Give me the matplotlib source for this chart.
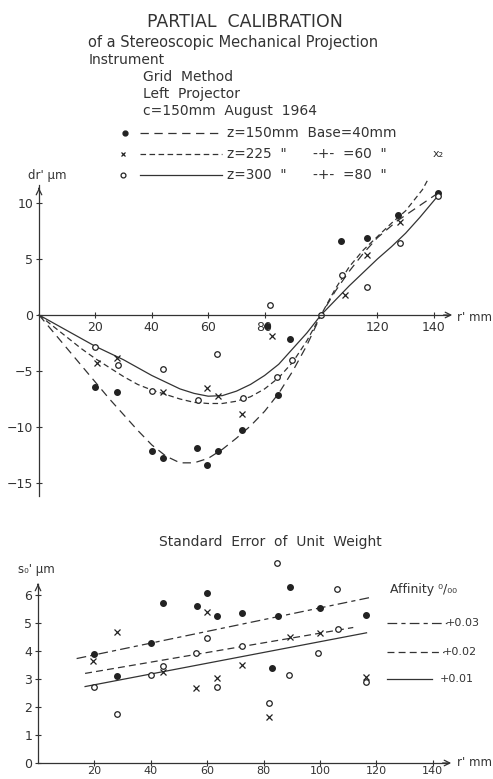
import matplotlib.pyplot as plt
import numpy as np

W, H = 493, 779
INK = '#333333'

plt.rcParams['font.family'] = ['DejaVu Sans']
plt.rcParams['lines.scale_dashes'] = False

# --- upper chart: dr' [um] against r' [mm] ---
curve150_r = [0, 5, 10, 15, 20, 25, 30, 35, 40, 45, 50, 55, 60, 65, 70, 75, 80, 85, 90, 95,
              100, 105, 110, 115, 120, 127, 134, 141]
curve150_dr = [0, -1.5, -3.0, -4.5, -6.0, -7.5, -8.9, -10.3, -11.6, -12.6, -13.2, -13.2, -12.8,
               -12.0, -11.0, -9.9, -8.6, -7.0, -5.0, -2.7, 0, 2.1, 3.9, 5.5, 6.9, 8.4, 9.6, 10.8]
curve225_r = [0, 5, 10, 15, 20, 25, 30, 35, 40, 45, 50, 55, 60, 65, 70, 75, 80, 85, 90, 95,
              100, 105, 110, 115, 120, 125, 130, 136, 142]
curve225_dr = [0, -1.0, -2.0, -3.0, -3.9, -4.7, -5.5, -6.2, -6.7, -7.1, -7.5, -7.8, -7.9, -7.9,
               -7.7, -7.3, -6.6, -5.6, -4.2, -2.3, 0, 2.3, 4.3, 5.8, 7.0, 8.2, 9.3, 11.2, 14.0]
curve300_r = [0, 5, 10, 15, 20, 25, 30, 35, 40, 45, 50, 55, 60, 65, 70, 75, 80, 85, 90, 95,
              100, 105, 110, 115, 120, 125, 130, 135, 141]
curve300_dr = [0, -0.7, -1.4, -2.1, -2.8, -3.4, -4.0, -4.7, -5.4, -6.0, -6.6, -7.0, -7.25, -7.2,
               -6.8, -6.2, -5.4, -4.4, -3.0, -1.6, 0, 1.3, 2.6, 3.8, 5.0, 6.1, 7.3, 8.7, 10.5]

pts150_r = [20, 27.7, 40, 44, 56, 59.6, 63.6, 72, 81, 84.8, 89, 107, 116.3, 127.3, 141.5]
pts150_dr = [-6.4, -6.9, -12.1, -12.8, -11.9, -13.4, -12.1, -10.3, -1.0, -7.1, -2.1, 6.6, 6.9, 8.9, 10.9]
pts225_r = [20.5, 27.6, 44, 59.6, 63.6, 72, 82.6, 108.5, 116.3, 128]
pts225_dr = [-4.3, -3.8, -6.9, -6.5, -7.2, -8.8, -1.9, 1.8, 5.4, 8.3]
pts300_r = [20, 28, 40, 44, 56.5, 63.2, 72.4, 82, 84.4, 89.7, 100, 107.4, 116.3, 128, 141.5]
pts300_dr = [-2.9, -4.5, -6.8, -4.8, -7.6, -3.5, -7.4, 0.9, -5.5, -4.0, 0, 3.6, 2.5, 6.4, 10.6]

top_xticks = [20, 40, 60, 80, 100, 120, 140]
top_xlabels = ['20', '40', '60', '80', '', '120', '140']
top_yticks = [-15, -10, -5, 0, 5, 10]

# --- lower chart: standard error of unit weight s0' [um] ---
se_fill_r = [20, 28.1, 40, 44.4, 56.5, 59.8, 63.6, 72.2, 82.9, 85.2, 89.4, 100, 116.3]
se_fill_s = [3.89, 3.11, 4.3, 5.70, 5.6, 6.08, 5.25, 5.37, 3.38, 5.25, 6.27, 5.52, 5.29]
se_x_r = [19.6, 27.9, 44.4, 56, 59.8, 63.4, 72.2, 82, 89.4, 100, 116.3]
se_x_s = [3.64, 4.69, 3.26, 2.67, 5.4, 3.02, 3.5, 1.65, 4.51, 4.65, 3.07]
se_o_r = [20, 28.1, 40, 44.4, 55.9, 59.8, 63.6, 72.2, 82, 84.6, 89.1, 99.4, 105.9, 106.5, 116.3]
se_o_s = [2.7, 1.75, 3.14, 3.46, 3.94, 4.45, 2.73, 4.18, 2.13, 7.13, 3.14, 3.94, 6.2, 4.77, 2.9]

fit003_r = [13.7, 117.7]
fit003_s = [3.73, 5.91]
fit002_r = [16.7, 111.8]
fit002_s = [3.2, 4.84]
fit001_r = [16.7, 116.5]
fit001_s = [2.73, 4.65]

bot_xticks = [20, 40, 60, 80, 100, 120, 140]
bot_yticks = [0, 1, 2, 3, 4, 5, 6]

fig = plt.figure(figsize=(W / 100, H / 100), dpi=100)
fig.patch.set_facecolor('white')


def px_axes(left, top, right, bottom):
    return fig.add_axes([left / W, 1 - bottom / H, (right - left) / W, (bottom - top) / H])


def style_axes(ax, xend, ytop, ybot):
    for s in ['top', 'right']:
        ax.spines[s].set_visible(False)
    ax.spines['left'].set_position(('data', 0))
    ax.spines['bottom'].set_position(('data', 0))
    ax.spines['left'].set_bounds(ybot, ytop)
    ax.spines['bottom'].set_bounds(0, xend)
    for s in ['left', 'bottom']:
        ax.spines[s].set_color(INK)
        ax.spines[s].set_linewidth(0.9)
    ax.tick_params(direction='inout', length=4, width=0.8, colors=INK, labelsize=9, pad=2)
    ax.patch.set_alpha(0)
    ax.annotate('', xy=(xend + 2, 0), xytext=(xend - 3, 0),
                arrowprops=dict(arrowstyle='->', color=INK, lw=0.9))
    ax.annotate('', xy=(0, ytop), xytext=(0, ytop - 0.1 * (ytop - ybot) / 5),
                arrowprops=dict(arrowstyle='->', color=INK, lw=0.9))


# upper axes: r'=0 at x px 39 (2.82 px/mm), dr'=0 at y px 315 (11.2 px/um)
ax1 = px_axes(20, 180, 490, 505)
ax1.set_xlim((20 - 39) / 2.82, (490 - 39) / 2.82)
ax1.set_ylim((315 - 505) / 11.2, (315 - 180) / 11.2)
style_axes(ax1, 145.5, 11.6, -16.2)
ax1.set_xticks(top_xticks, top_xlabels)
ax1.set_yticks(top_yticks)

ax1.plot(curve150_r, curve150_dr, color=INK, lw=0.9, dashes=(6, 4))
ax1.plot(curve225_r, curve225_dr, color=INK, lw=0.9, dashes=(4, 2.5))
ax1.plot(curve300_r, curve300_dr, color=INK, lw=0.9)
ax1.plot(pts150_r, pts150_dr, 'o', color='#222222', ms=4)
ax1.plot(pts225_r, pts225_dr, 'x', color='#222222', ms=4, mew=0.9)
ax1.plot(pts300_r, pts300_dr, 'o', mfc='white', mec='#222222', ms=4, mew=0.9)
ax1.text(141.5, 14.4, 'x₂', color=INK, fontsize=8, ha='center', va='center')

# lower axes: r'=0 at x px 38, s0'=0 at y px 763 (28 px/um)
ax2 = px_axes(20, 555, 490, 775)
ax2.set_xlim((20 - 38) / 2.82, (490 - 38) / 2.82)
ax2.set_ylim((763 - 775) / 28, (763 - 555) / 28)
style_axes(ax2, 145.5, 6.4, 0)
ax2.set_xticks(bot_xticks)
ax2.set_yticks(bot_yticks)
ax2.tick_params(axis='x', labelsize=8, pad=0.5)

ax2.plot(fit003_r, fit003_s, color=INK, lw=0.9, dashes=(7, 3, 3, 3))
ax2.plot(fit002_r, fit002_s, color=INK, lw=0.9, dashes=(5, 3))
ax2.plot(fit001_r, fit001_s, color=INK, lw=0.9)
ax2.plot(se_fill_r, se_fill_s, 'o', color='#222222', ms=4)
ax2.plot(se_x_r, se_x_s, 'x', color='#222222', ms=4, mew=0.9)
ax2.plot(se_o_r, se_o_s, 'o', mfc='white', mec='#222222', ms=4, mew=0.9)

# overlay in pixel units for headings and legend keys
ov = fig.add_axes([0, 0, 1, 1])
ov.set_xlim(0, W)
ov.set_ylim(H, 0)
ov.axis('off')

ov.text(245, 22, 'PARTIAL  CALIBRATION', fontsize=12.5, color=INK, ha='center', va='center')
ov.text(88, 42, 'of a Stereoscopic Mechanical Projection', fontsize=10.5, color=INK, va='center')
ov.text(89, 60, 'Instrument', fontsize=10, color=INK, va='center')
ov.text(143, 77, 'Grid  Method', fontsize=10, color=INK, va='center')
ov.text(143, 94, 'Left  Projector', fontsize=10, color=INK, va='center')
ov.text(143, 111, 'c=150mm  August  1964', fontsize=10, color=INK, va='center')

ov.plot([125], [133], 'o', color='#222222', ms=3.5)
ov.plot([140, 222], [133, 133], color=INK, lw=0.9, dashes=(6, 4))
ov.text(227, 133, 'z=150mm  Base=40mm', fontsize=9.8, color=INK, va='center')
ov.plot([123], [154], 'x', color='#222222', ms=3.5, mew=0.9)
ov.plot([140, 222], [154, 154], color=INK, lw=0.9, dashes=(4, 2.5))
ov.text(227, 154, 'z=225  "', fontsize=9.8, color=INK, va='center')
ov.text(313, 154, '-+-  =60  "', fontsize=9.8, color=INK, va='center')
ov.plot([123], [175], 'o', mfc='white', mec='#222222', ms=3.5, mew=0.9)
ov.plot([140, 222], [175, 175], color=INK, lw=0.9)
ov.text(227, 175, 'z=300  "', fontsize=9.8, color=INK, va='center')
ov.text(313, 175, '-+-  =80  "', fontsize=9.8, color=INK, va='center')

ov.text(28, 175, "dr' μm", fontsize=8.5, color=INK, va='center')
ov.text(457, 317, "r' mm", fontsize=8.5, color=INK, va='center')

ov.text(270, 542, 'Standard  Error  of  Unit  Weight', fontsize=10, color=INK,
        ha='center', va='center')
ov.text(18, 570, "s₀' μm", fontsize=8.5, color=INK, va='center')
ov.text(390, 590, 'Affinity ⁰/₀₀', fontsize=9, color=INK, va='center')
ov.text(457, 763, "r' mm", fontsize=8.5, color=INK, va='center')

ov.plot([387, 447], [623, 623], color=INK, lw=0.9, dashes=(7, 3, 3, 3))
ov.text(446, 623, '+0.03', fontsize=8, color=INK, va='center')
ov.plot([387, 444], [652, 652], color=INK, lw=0.9, dashes=(5, 3))
ov.text(443, 652, '+0.02', fontsize=8, color=INK, va='center')
ov.plot([387, 432], [679, 679], color=INK, lw=0.9)
ov.text(440, 679, '+0.01', fontsize=8, color=INK, va='center')

fig.savefig('out.png', dpi=100, facecolor='white')
